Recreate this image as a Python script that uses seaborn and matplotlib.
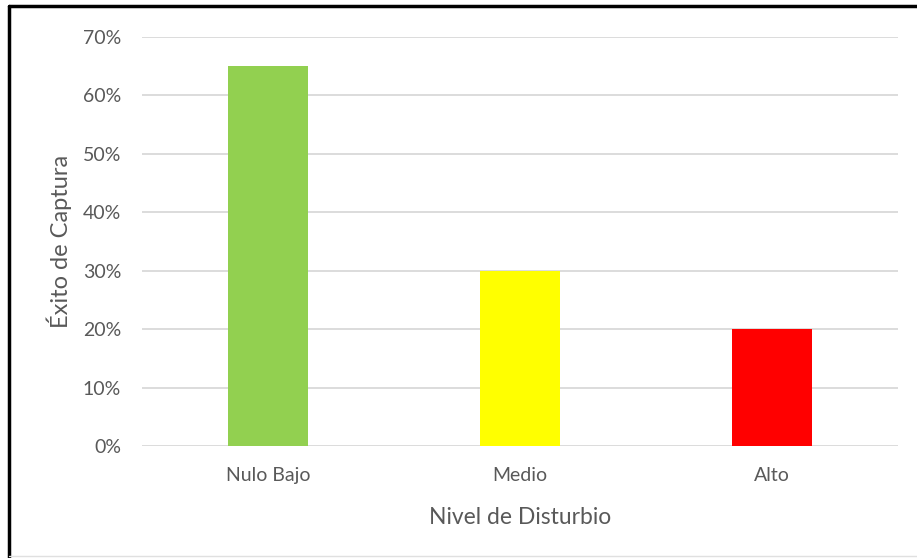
import matplotlib
matplotlib.use("Agg")
import matplotlib.pyplot as plt
import seaborn as sns
import pandas as pd
from matplotlib.ticker import PercentFormatter
from matplotlib.lines import Line2D

categories = ["Nulo Bajo", "Medio", "Alto"]
values = [0.65, 0.30, 0.20]
colors = ["#92D050", "#FFFF00", "#FF0000"]
yticks = [0, 0.1, 0.2, 0.3, 0.4, 0.5, 0.6, 0.7]

sns.set_theme(style="white")
plt.rcParams["font.family"] = ["Lato", "DejaVu Sans"]

df = pd.DataFrame({"Nivel": categories, "Exito": values})

fig = plt.figure(figsize=(9.17, 5.58), dpi=100)
ax = fig.add_axes([0.1549, 0.2007, 0.8243, 0.733])

sns.barplot(data=df, x="Nivel", y="Exito", hue="Nivel", palette=colors,
            legend=False, width=0.317, ax=ax, saturation=1, linewidth=0)

ax.set_ylim(0, 0.7)
ax.set_xlim(-0.5, 2.5)
ax.set_yticks(yticks)
ax.yaxis.set_major_formatter(PercentFormatter(1.0, decimals=0))
ax.grid(axis="y", color="#D9D9D9", linewidth=1.3)
ax.set_axisbelow(True)
for s in ax.spines.values():
    s.set_visible(False)
ax.tick_params(axis="both", length=0, colors="#595959", labelsize=14)
ax.tick_params(axis="y", pad=15)
ax.tick_params(axis="x", pad=15)
ax.set_xlabel("Nivel de Disturbio", color="#595959", fontsize=16.5, labelpad=17)
ax.set_ylabel("Éxito de Captura", color="#595959", fontsize=17, labelpad=8)

# figure border (top and left dark, bottom light)
fig.add_artist(Line2D([0.0098, 0.0098], [0.0, 0.989], transform=fig.transFigure, color="black", linewidth=2.5))
fig.add_artist(Line2D([0.0098, 1.0], [0.989, 0.989], transform=fig.transFigure, color="black", linewidth=2.5))
fig.add_artist(Line2D([0.0098, 1.0], [0.003, 0.003], transform=fig.transFigure, color="#E0E0E0", linewidth=1))

fig.savefig("out.png", dpi=100)
